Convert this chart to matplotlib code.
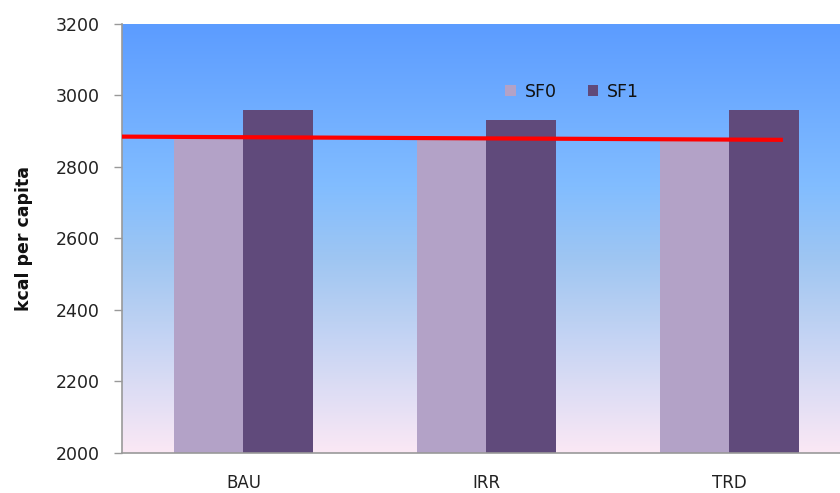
import numpy as np
import matplotlib
matplotlib.use("Agg")
import matplotlib.pyplot as plt
from matplotlib.colors import LinearSegmentedColormap

# data
#-----------------------------------------------------------------------------#
scenarios = ["BAU", "IRR", "TRD"]
sf0 = [2890, 2878, 2872]
sf1 = [2960, 2932, 2960]
ref_x = [-0.5, 2.22]      # red reference line, ends in category units
ref_y = [2885, 2876]

ymin, ymax = 2000, 3200
yticks = [2000, 2200, 2400, 2600, 2800, 3000, 3200]

#figure
#-----------------------------------------------------------------------------#
fig = plt.figure(figsize=(8.4, 4.93), dpi=100)
ax = fig.add_axes([122/840, 1 - 453/493, 1 - 122/840, (453 - 24)/493])

xlim = (-0.5, 2.455)
# gradient background (top blue -> pink at bottom)
cmap = LinearSegmentedColormap.from_list(
    "bg", [(0.0, "#fbe8f5"), (0.45, "#9fc6f2"), (0.62, "#82bdff"), (1.0, "#5c9cff")])
grad = np.linspace(0, 1, 256).reshape(-1, 1)
ax.imshow(grad, cmap=cmap, aspect="auto", origin="lower",
          extent=[xlim[0], xlim[1], ymin, ymax], zorder=0)

x = np.arange(len(scenarios))
w = 0.285
ax.bar(x - w/2, sf0, w, color="#b3a2c7", label="SF0", zorder=2)
ax.bar(x + w/2, sf1, w, color="#604a7b", label="SF1", zorder=2)
ax.plot(ref_x, ref_y, color="#ff0000", lw=3, zorder=3, solid_capstyle="butt")

ax.set_xlim(*xlim)
ax.set_ylim(ymin, ymax)
ax.set_yticks(yticks)
ax.set_xticks(x)
ax.set_xticklabels(scenarios)
ax.tick_params(axis="x", length=0, pad=15, labelsize=12, colors="#222222")
ax.tick_params(axis="y", length=6, width=1, color="#999999", labelsize=12.5,
               labelcolor="#222222", pad=10)

for s in ["top", "right"]:
    ax.spines[s].set_visible(False)
ax.spines["left"].set_color("#999999")
ax.spines["bottom"].set_color("#999999")
ax.spines["left"].set_linewidth(1.2)
ax.spines["bottom"].set_linewidth(1.2)

ax.set_ylabel("kcal per capita", fontsize=12.5, fontweight="bold",
              color="#111111", labelpad=16)

leg = ax.legend(loc="center", bbox_to_anchor=((572 - 122)/718, (453 - 92)/429),
                ncol=2, frameon=False, fontsize=12.5, handlelength=0.6,
                handleheight=0.6, handletextpad=0.5, columnspacing=1.8)
for t in leg.get_texts():
    t.set_color("#111111")

fig.savefig("out.png", dpi=100)
